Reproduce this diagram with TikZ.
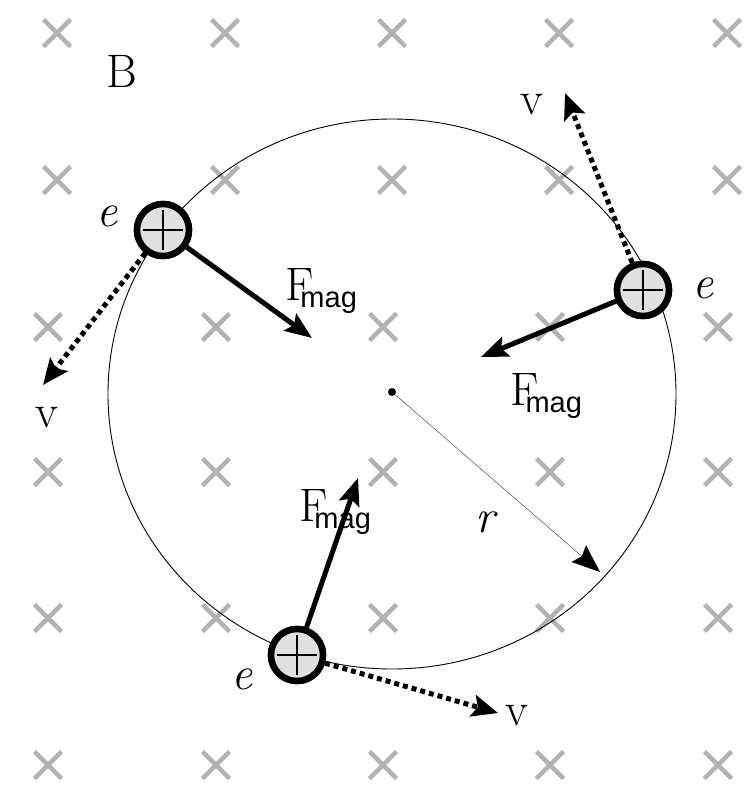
\documentclass[tikz,border=0pt]{standalone}
\usepackage{fontspec}
\newfontfamily\magfont{Liberation Sans}
\usetikzlibrary{arrows.meta}
\tikzset{
  bcross/.style={draw=black!30, line width=4.5pt},
  orbit/.style={draw=black, line width=0.9pt},
  particle/.style={circle, draw=black, line width=6.5pt, fill=black!12, minimum size=52pt, inner sep=0pt,
    path picture={\draw[line width=2pt]
      ([xshift=-20pt]path picture bounding box.center) -- ([xshift=20pt]path picture bounding box.center)
      ([yshift=-20pt]path picture bounding box.center) -- ([yshift=20pt]path picture bounding box.center);}},
  force/.style={line width=5pt, -{Stealth[length=27pt,width=21pt,inset=5pt]}},
  velo/.style={line width=5pt, dash pattern=on 5pt off 4pt, -{Stealth[length=26pt,width=22pt,inset=5pt]}},
  rad/.style={line width=0.5pt, draw=black!70, -{Stealth[length=28pt,width=22pt,inset=4pt,black]}},
  cdot/.style={circle, fill=black, minimum size=8pt, inner sep=0pt},
  lbl/.style={inner sep=0pt, font=\fontsize{47}{56}\selectfont},
}
\newcommand{\Fmag}{F\kern-13pt\raisebox{-7pt}{\magfont\fontsize{29}{30}\selectfont mag}}
\begin{document}
\begin{tikzpicture}[x=1pt,y=-1pt]
\useasboundingbox[fill=white] (0,0) rectangle (752,803);
% field crosses
\foreach \x in {57,225,392,559,727} \foreach \y in {33,180}
  {\draw[bcross] (\x,\y) +(-13.5,-13.5) -- +(13.5,13.5) +(-13.5,13.5) -- +(13.5,-13.5);}
\foreach \x in {48,216,383,550,718} \foreach \y in {327,472,618,765}
  {\draw[bcross] (\x,\y) +(-13.5,-13.5) -- +(13.5,13.5) +(-13.5,13.5) -- +(13.5,-13.5);}
% orbit
\draw[orbit] (392,394) ellipse [x radius=284pt, y radius=275pt];
\node[cdot] (O) at (392,392) {};
\coordinate (rtip) at (600,572);
\draw[rad] (O) -- (rtip);
% particles
\node[particle] (p1) at (163,230) {};
\node[particle] (p2) at (643,290) {};
\node[particle] (p3) at (297,655) {};
% arrow end points
\coordinate (f1) at (312,338);
\coordinate (f2) at (481,357);
\coordinate (f3) at (358,478);
\coordinate (v1) at (43,385);
\coordinate (v2) at (565,93);
\coordinate (v3) at (498,713);
\draw[force] (p1) -- (f1);
\draw[force] (p2) -- (f2);
\draw[force] (p3) -- (f3);
\draw[velo] (p1) -- (v1);
\draw[velo] (p2) -- (v2);
\draw[velo] (p3) -- (v3);
% redraw particles on top
\node[particle] at (p1) {};
\node[particle] at (p2) {};
\node[particle] at (p3) {};
% labels
\node[lbl] (B) at (122,71) {B};
\node[lbl] (e1) at (107,216) {\textit{e}};
\node[lbl] (e2) at (703,288) {\textit{e}};
\node[lbl] (e3) at (242,679) {\textit{e}};
\node[lbl] (lv1) at (47,418) {v};
\node[lbl] (lv2) at (532,105) {v};
\node[lbl] (lv3) at (517,716) {v};
\node[lbl] (lr) at (487,522) {\textit{r}};
\node[lbl, anchor=base west] (F1) at (285,300) {\Fmag};
\node[lbl, anchor=base west] (F2) at (510,405) {\Fmag};
\node[lbl, anchor=base west] (F3) at (299,521) {\Fmag};
\end{tikzpicture}
\end{document}
